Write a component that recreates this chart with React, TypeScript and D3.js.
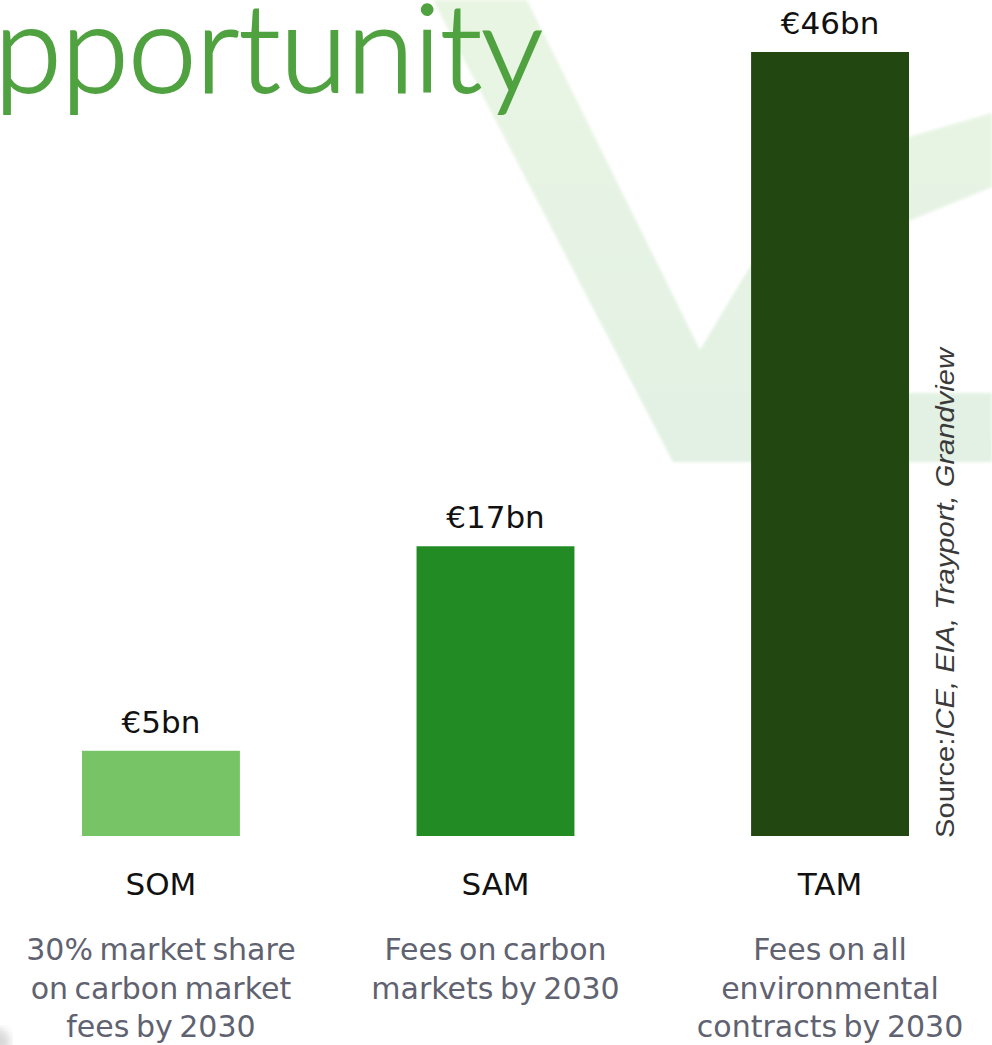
import React from "react";
import * as d3 from "d3";

const categories = ["SOM", "SAM", "TAM"];
const values = [5, 17, 46];
const valueLabels = ["€5bn", "€17bn", "€46bn"];
const descriptions = [
  ["30% market share", "on carbon market", "fees by 2030"],
  ["Fees on carbon", "markets by 2030"],
  ["Fees on all", "environmental", "contracts by 2030"],
];
const barColors = ["#77C467", "#238B23", "#234710"];
const titleText = "pportunity";
const sourceLead = "Source:";
const sourceRest = "ICE, EIA, Trayport, Grandview";

const W = 992;
const H = 1045;
const TITLE_FONT = "Lato, 'Open Sans', sans-serif";
const LABEL_FONT = "'DejaVu Sans', Lato, sans-serif";
const SOURCE_FONT = "'Liberation Sans', Arial, sans-serif";

export default function App() {
  const x = d3.scaleBand<string>().domain(categories).range([82, 909]).paddingInner(0.528).paddingOuter(0);
  const y = d3.scaleLinear().domain([0, 46]).range([836, 52]);

  const bgPts: [number, number][] = [
    [433, 0], [527, 0], [700, 350], [811, 165], [992, 113], [992, 187],
    [855, 243], [756, 393], [992, 393], [992, 462], [673, 462],
  ];
  const bgPath = d3.line()(bgPts) + "Z";

  return (
    <div style={{ position: "absolute", left: 0, top: 0, width: W, height: H, overflow: "hidden", background: "#fff" }}>
      <svg width={W} height={H} style={{ display: "block" }}>
        <defs>
          <linearGradient id="bgGrad" x1="0" y1="0" x2="0" y2="1">
            <stop offset="0" stopColor="#E9F5E3" />
            <stop offset="1" stopColor="#E2F1E4" />
          </linearGradient>
          <filter id="blur" x="-20%" y="-20%" width="140%" height="140%">
            <feGaussianBlur stdDeviation="1.5" />
          </filter>
          <filter id="blur2">
            <feGaussianBlur stdDeviation="4" />
          </filter>
        </defs>
        <rect width={W} height={H} fill="#fff" />
        <path d={bgPath} fill="url(#bgGrad)" filter="url(#blur)" />
        <circle cx={-4} cy={1042} r={14} fill="#d8d8d8" filter="url(#blur2)" />

        <text x={-6} y={92} fill="#50A240" stroke="#50A240" strokeWidth={1.8} fontFamily={TITLE_FONT} fontSize={123} fontWeight={300} textLength={549} lengthAdjust="spacing">
          {titleText}
        </text>

        {categories.map((c, i) => {
          const bx = x(c)!;
          const bw = x.bandwidth();
          const cx = bx + bw / 2;
          const top = y(values[i]);
          return (
            <g key={c}>
              <rect x={bx} y={top} width={bw} height={y(0) - top} fill={barColors[i]} />
              <text x={cx} y={top - 18} textAnchor="middle" fontFamily={LABEL_FONT} fontSize={31} fill="#111">
                {valueLabels[i]}
              </text>
              <text x={cx} y={895} textAnchor="middle" fontFamily={LABEL_FONT} fontSize={31} fill="#111">
                {c}
              </text>
              {descriptions[i].map((line, j) => (
                <text key={j} x={cx} y={960 + j * 38.5} textAnchor="middle" fontFamily={LABEL_FONT} fontSize={30} fill="#5F6270" letterSpacing={0} wordSpacing={-3}>
                  {line}
                </text>
              ))}
            </g>
          );
        })}

        <text transform="translate(954,838) rotate(-90)" fontFamily={SOURCE_FONT} fontSize={26} fill="#3a3a3a" textLength={490} lengthAdjust="spacingAndGlyphs">
          <tspan>{sourceLead}</tspan>
          <tspan fontStyle="italic">{sourceRest}</tspan>
        </text>
      </svg>
    </div>
  );
}
